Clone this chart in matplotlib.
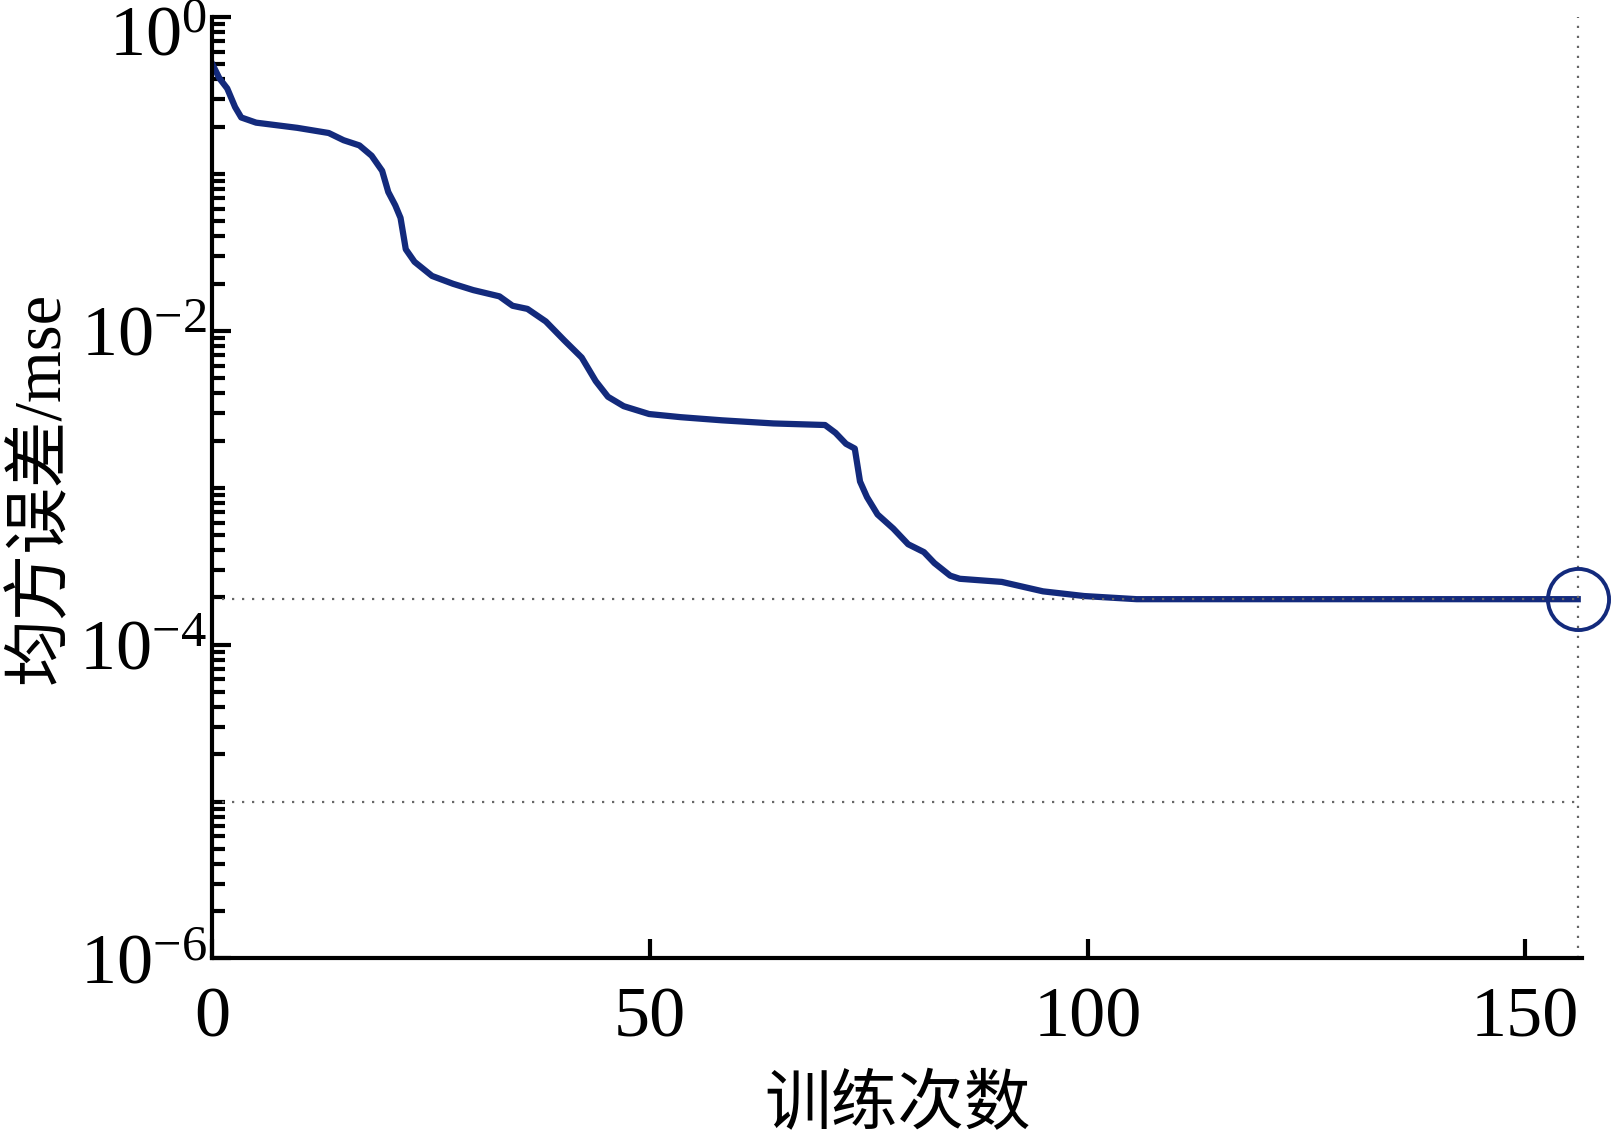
import numpy as np
import matplotlib
matplotlib.use('Agg')
import matplotlib.pyplot as plt
import matplotlib.transforms as mtransforms
from matplotlib.ticker import FixedLocator, LogLocator, NullFormatter, LogFormatterSciNotation

plt.rcParams['font.family'] = ['Liberation Serif', 'Noto Sans CJK SC']
plt.rcParams['mathtext.fontset'] = 'stix'

# training record (epoch, mse)
epochs = [0, 0.8, 1.7, 2.6, 3.3, 5, 9.7, 13.3, 15, 16.8, 18.2, 19.4, 20.1, 20.9, 21.5,
          22.1, 23.1, 25.1, 27.5, 29.8, 32.8, 34.3, 36, 38.1, 40.2, 42.2, 43.8, 45.2,
          47, 49.9, 53.5, 58.2, 64.1, 70, 71.2, 72.4, 73.4, 74, 74.8, 76, 77.8, 79.5,
          81.3, 82.5, 84.3, 85.4, 90.2, 94.9, 99.6, 105.6, 117, 156]
log_mse = [-0.30, -0.39, -0.455, -0.574, -0.64, -0.673, -0.706, -0.739, -0.785, -0.818,
           -0.884, -0.98, -1.115, -1.20, -1.28, -1.48, -1.56, -1.65, -1.70, -1.74, -1.78,
           -1.84, -1.86, -1.94, -2.06, -2.17, -2.32, -2.42, -2.48, -2.53, -2.55, -2.57,
           -2.59, -2.60, -2.65, -2.72, -2.75, -2.96, -3.06, -3.17, -3.26, -3.36, -3.41,
           -3.48, -3.56, -3.58, -3.60, -3.66, -3.69, -3.71, -3.71, -3.71]
mse = 10 ** np.array(log_mse)

best_epoch = 156
best_mse = mse[-1]
goal = 1e-5

navy = '#132a7c'

fig = plt.figure(figsize=(16.21, 11.37), dpi=100)
ax = fig.add_axes([0.131, 0.157, 0.845, 0.828])

ax.semilogy(epochs, mse, color=navy, lw=4.5, solid_joinstyle='round')
ax.axhline(best_mse, color='#666666', ls=(0, (1, 3.5)), lw=1.6)
ax.axhline(goal, color='#666666', ls=(0, (1, 3.5)), lw=1.6)
ax.axvline(best_epoch, color='#666666', ls=(0, (1, 3.5)), lw=1.6)
ax.plot([best_epoch], [best_mse], 'o', ms=44, mfc='none', mec=navy, mew=2.8, clip_on=False)

ax.set_xlim(0, 156.5)
ax.set_ylim(1e-6, 1e0)
ax.set_xticks([0, 50, 100, 150])
ax.yaxis.set_major_locator(FixedLocator([1e0, 1e-2, 1e-4, 1e-6]))
ax.yaxis.set_major_formatter(LogFormatterSciNotation())
ax.yaxis.set_minor_locator(LogLocator(base=10, subs=np.arange(1, 10), numticks=20))
ax.yaxis.set_minor_formatter(NullFormatter())

for s in ['top', 'right']:
    ax.spines[s].set_visible(False)
for s in ['left', 'bottom']:
    ax.spines[s].set_linewidth(3)

ax.tick_params(which='major', direction='in', length=14, width=3, labelsize=52, pad=4)
ax.tick_params(which='minor', direction='in', length=9, width=3)
ax.tick_params(axis='x', pad=20)

# push the top label down a little so it stays inside the figure
fig.canvas.draw()
top_lbl = ax.yaxis.get_majorticklabels()[0]
offset = mtransforms.ScaledTranslation(0, -10 / 72, fig.dpi_scale_trans)
top_lbl.set_transform(top_lbl.get_transform() + offset)

ax.set_xlabel('训练次数', fontsize=48, labelpad=18)
ax.set_ylabel('均方误差/mse', fontsize=48, labelpad=4)

fig.savefig('out.png', dpi=100)
